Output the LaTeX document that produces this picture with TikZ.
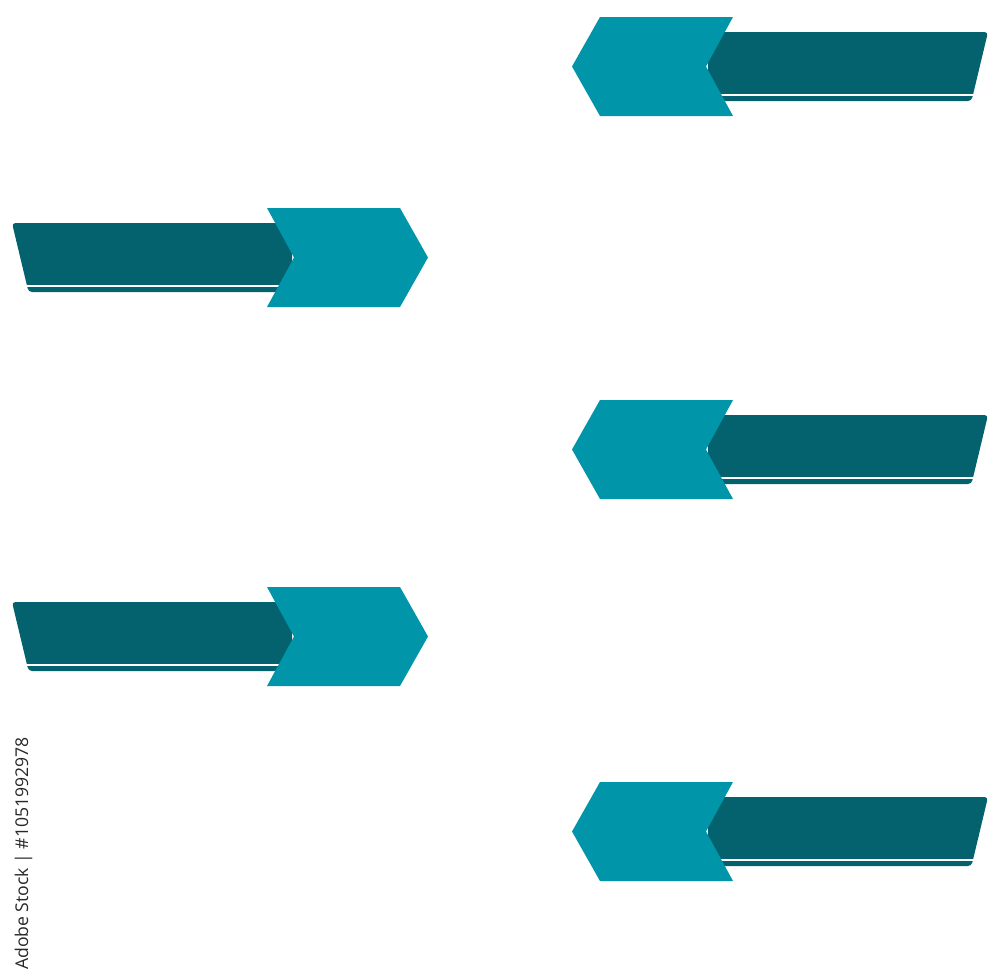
\documentclass[tikz,border=0pt]{standalone}
\usepackage{fontspec}
\newfontfamily\wmfont{Open Sans}
\definecolor{bardark}{RGB}{3,98,110}
\definecolor{chevlight}{RGB}{0,149,168}
\definecolor{wmgray}{RGB}{40,40,40}
\tikzset{
  barfill/.style={fill=bardark},
  chevfill/.style={fill=chevlight},
  gapline/.style={draw=white,line width=2pt},
}
\newcommand\bannerbody{%
  \fill[barfill] (292,15) [rounded corners=3.5pt] -- (12,15) -- (28.5,84) [sharp corners] -- (292,84) -- cycle;
  \draw[gapline] (10,77.5) -- (285,77.5);
  \fill[chevfill] (267,0) -- (400,0) -- (428,49.5) -- (400,99) -- (267,99) -- (294,49.5) -- cycle;
}
\newcommand\bannerL[1]{\begin{scope}[shift={(0,#1)}]\bannerbody\end{scope}}
\newcommand\bannerR[1]{\begin{scope}[shift={(1000,#1)},xscale=-1]\bannerbody\end{scope}}
\begin{document}
\begin{tikzpicture}[x=1pt,y=-1pt]
\useasboundingbox (0,0) rectangle (1000,978);
\fill[white] (0,0) rectangle (1000,978);
\bannerR{17}
\bannerL{208}
\bannerR{400}
\bannerL{587}
\bannerR{782}
\node[rotate=90,anchor=west,inner sep=0pt,text=wmgray,font=\wmfont\fontsize{17.6}{20}\selectfont] (wm) at (23.5,970) {Adobe Stock | \#1051992978};
\end{tikzpicture}
\end{document}
